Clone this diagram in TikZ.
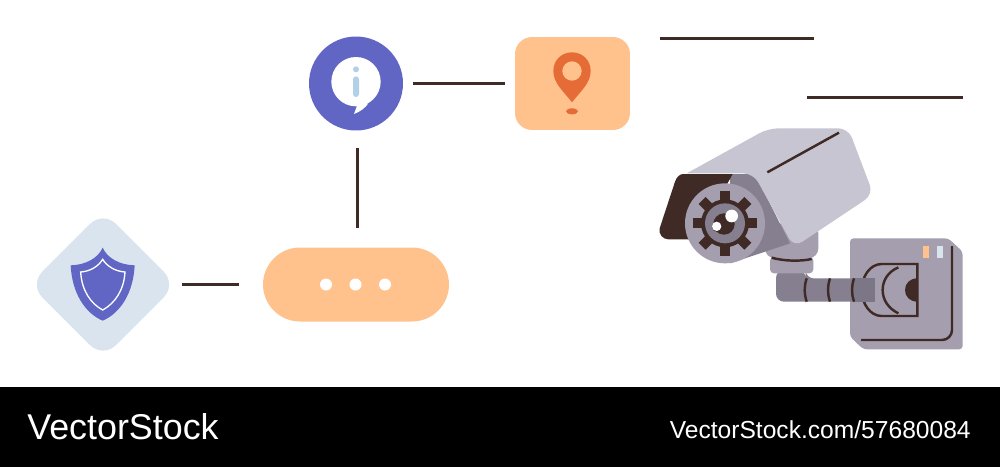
\documentclass[tikz,border=0pt]{standalone}
\usepackage{fontspec}
\setmainfont{Liberation Sans}
\usepackage{xcolor}
\definecolor{linkdark}{HTML}{3F2A26}
\definecolor{violet}{HTML}{6166C4}
\definecolor{paleblue}{HTML}{D9E4EE}
\definecolor{softblue}{HTML}{B2D1E8}
\definecolor{peach}{HTML}{FFC28D}
\definecolor{pinred}{HTML}{E56C37}
\definecolor{hoodgrey}{HTML}{C6C5D1}
\definecolor{bodygrey}{HTML}{A59EAF}
\definecolor{barrelgrey}{HTML}{857F8F}
\definecolor{tipgrey}{HTML}{7B7787}
\tikzset{
    link/.style={draw=linkdark,line width=1.7pt},
    camline/.style={draw=linkdark,line width=1.4pt},
    iconnode/.style={inner sep=0pt,outer sep=0pt,draw=none},
    banner/.style={text=white,inner sep=0pt,anchor=west},
}

\begin{document}
\begin{tikzpicture}[x=0.02cm,y=-0.02cm]
    \useasboundingbox (0,0) rectangle (1000,467);
    \fill[black] (0,387) rectangle (1000,467);
    \node[banner] (brand) at (27,427) {\fontsize{20.4pt}{24pt}\selectfont VectorStock};
    \node[banner,anchor=east] (stockid) at (971,430) {\fontsize{14pt}{17pt}\selectfont VectorStock.com/57680084};

    \node[iconnode,rectangle,rounded corners=0.36cm,fill=paleblue,rotate=45,minimum size=2.08cm] (shield) at (103,284.5) {};
    \node[iconnode,rectangle,rounded corners=0.74cm,fill=peach,minimum width=3.72cm,minimum height=1.48cm] (dots) at (356,284.5) {};
    \node[iconnode,circle,fill=violet,minimum size=1.88cm] (info) at (356,83.5) {};
    \node[iconnode,rectangle,rounded corners=0.34cm,fill=peach,minimum width=2.3cm,minimum height=1.86cm] (pin) at (572.5,83.5) {};

    \draw[link,shorten <=0.11cm,shorten >=0.48cm] (shield.south east) -- (dots.west);
    \draw[link,shorten <=0.36cm,shorten >=0.4cm] (info.south) ++(1.5,0) coordinate (infofoot) -- (infofoot |- dots.north);
    \draw[link,shorten <=0.2cm,shorten >=0.2cm] (info) -- (pin);

    \coordinate (wirea) at (660,38.5);
    \coordinate (wireb) at (814,38.5);
    \coordinate (wirec) at (807,97.5);
    \coordinate (wired) at (963,97.5);
    \draw[link] (wirea) -- (wireb);
    \draw[link] (wirec) -- (wired);

    \foreach \xdot in {326,355.5,385}
      \fill[white] (\xdot,284.5) circle (6);

    \begin{scope}[shift={(20,200)},scale=1/3]
      \fill[violet] (248,143) .. controls (262,175) and (300,195) .. (344,196)
        .. controls (340,280) and (300,340) .. (248,362)
        .. controls (196,340) and (156,280) .. (152,196)
        .. controls (196,195) and (234,175) .. (248,143) -- cycle;
      \draw[white,line width=0.75pt] (248,178) .. controls (260,198) and (285,214) .. (315,216)
        .. controls (312,270) and (285,310) .. (248,330)
        .. controls (211,310) and (185,270) .. (182,216)
        .. controls (212,214) and (236,198) .. (248,178) -- cycle;
    \end{scope}

    \begin{scope}[shift={(300,25)},scale=1/3]
      \fill[white] (168,170) circle (74);
      \fill[white] (172,240) -- (162,267) .. controls (180,260) and (195,250) .. (205,235) -- cycle;
      \fill[softblue] (168,133) circle (9);
      \fill[softblue,rounded corners=0.06cm] (159,154) rectangle (177,216);
      \fill[pinred] (816,232) .. controls (790,198) and (760,175) .. (760,138)
        .. controls (760,105) and (785,82) .. (816,82)
        .. controls (847,82) and (872,105) .. (872,138)
        .. controls (872,175) and (842,198) .. (816,232) -- cycle;
      \fill[peach] (816,138) circle (29);
      \fill[pinred] (816,259) ellipse (18 and 9);
    \end{scope}

    \begin{scope}[shift={(640,110)},scale=1/3]
      \fill[bodygrey,rounded corners=0.07cm] (630,385) -- (925,385) -- (968,425) -- (968,718)
        -- (670,718) -- (630,680) -- cycle;
      \fill[peach] (850,408) rectangle (866,443);
      \fill[paleblue] (892,408) rectangle (910,443);
      \draw[camline,rounded corners=0.2cm] (936,408) -- (936,690) -- (663,690);
      \draw[camline,line cap=round] (725,462) -- (832,462) -- (832,618) -- (725,618)
        .. controls (690,618) and (665,580) .. (665,540)
        .. controls (665,500) and (690,462) .. (725,462);
      \draw[camline] (775,472) .. controls (745,485) and (728,510) .. (728,540)
        .. controls (728,570) and (745,595) .. (775,610);
      \fill[linkdark] (832,505) .. controls (810,505) and (795,520) .. (795,540)
        .. controls (795,560) and (810,575) .. (832,575) -- cycle;

      \fill[barrelgrey,rounded corners=0.16cm] (408,480) -- (408,575) -- (660,575) -- (660,505)
        -- (497,505) -- (497,480) -- cycle;
      \fill[tipgrey] (640,505) -- (705,505) -- (705,575) -- (640,575) -- cycle;
      \foreach \xband/\bulge in {500/492,570/562,642/634}
        \draw[camline] (\xband,505) .. controls (\bulge,530) and (\bulge,550) .. (\xband,575);

      \fill[bodygrey,rounded corners=0.08cm] (390,440) -- (390,490) -- (520,490) -- (520,440) -- cycle;
      \fill[bodygrey,rounded corners=0.2cm] (375,340) -- (375,445) -- (535,445) -- (535,340) -- cycle;
      \draw[camline] (395,443) .. controls (430,453) and (480,455) .. (515,447);

      \fill[barrelgrey] (270,192) -- (345,192) -- (450,400) -- (270,460) -- cycle;
      \fill[linkdark] (130,192) -- (278,192) -- (170,388) -- (85,388)
        .. controls (68,388) and (55,372) .. (59,355) -- (105,215)
        .. controls (110,200) and (120,192) .. (130,192) -- cycle;
      \fill[hoodgrey] (140,190) [rounded corners=0.2cm] -- (385,55) -- (625,55)
        -- (700,253) -- (462,412) -- (340,190) [sharp corners] -- cycle;
      \draw[camline] (382,187) -- (597,68);

      \fill[bodygrey] (255,340) circle (120);
      \foreach \ang in {0,45,...,315}
        \fill[linkdark,rotate around={\ang:(255,340)}] (240,243) rectangle (270,300);
      \fill[linkdark] (255,340) circle (72);
      \fill[barrelgrey] (255,340) circle (60);
      \fill[linkdark] (252,342) circle (32);
      \fill[linkdark] (232,350) circle (16);
      \fill[white] (275,318) circle (19);
      \fill[white] (230,349) circle (14);
    \end{scope}
\end{tikzpicture}
\end{document}
